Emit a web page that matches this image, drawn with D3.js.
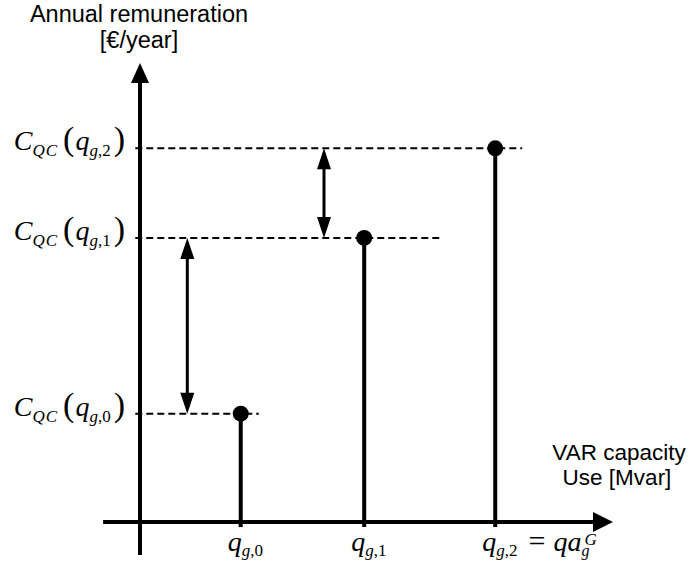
<!DOCTYPE html>
<html>
<head>
<meta charset="utf-8">
<script src="https://cdn.jsdelivr.net/npm/d3@7"></script>
<style>
  body { margin: 0; background: #fff; }
</style>
</head>
<body>
<script>
// capacity levels (arbitrary units along the x axis) and their remuneration
const levels = ["0", "1", "2"];
const capacity = [21.3, 47.4, 75.1];
const remuneration = [23.6, 61.9, 81.4];
// where each dashed guide line stops (x units)
const dashEnd = [25.1, 64.0, 80.8];
// double arrows between remuneration levels: [x, from level, to level]
const gaps = [[10.0, 1, 0], [38.9, 2, 1]];

const width = 691, height = 574;

const svg = d3.select("body").append("svg")
    .attr("width", width)
    .attr("height", height);

const x = d3.scaleLinear().domain([0, 100]).range([140, 613]);
const y = d3.scaleLinear().domain([0, 100]).range([522, 63]);

const serif = "'Liberation Serif', 'Times New Roman', serif";
const sans = "'Liberation Sans', Arial, sans-serif";
const big = 28, small = 17, paren = 34;

// axes
svg.append("line")
    .attr("x1", x(0)).attr("x2", x(0))
    .attr("y1", y(-7.2)).attr("y2", y(96))
    .attr("stroke", "#000").attr("stroke-width", 4);
svg.append("path")
    .attr("d", `M${x(0)},${y(100)} L${x(0) - 9},${y(100) + 20} L${x(0) + 9},${y(100) + 20} Z`)
    .attr("fill", "#000");

svg.append("line")
    .attr("x1", x(-7.8)).attr("x2", x(97))
    .attr("y1", y(0)).attr("y2", y(0))
    .attr("stroke", "#000").attr("stroke-width", 4);
svg.append("path")
    .attr("d", `M${x(100)},${y(0)} L${x(100) - 20},${y(0) - 10} L${x(100) - 20},${y(0) + 10} Z`)
    .attr("fill", "#000");

// dashed guides
svg.selectAll("line.guide")
    .data(levels)
    .join("line")
    .attr("class", "guide")
    .attr("x1", x(-1)).attr("x2", (d, i) => x(dashEnd[i]))
    .attr("y1", (d, i) => y(remuneration[i]))
    .attr("y2", (d, i) => y(remuneration[i]))
    .attr("stroke", "#000").attr("stroke-width", 2)
    .attr("stroke-dasharray", "7,4");

// stems and dots
svg.selectAll("line.stem")
    .data(levels)
    .join("line")
    .attr("class", "stem")
    .attr("x1", (d, i) => x(capacity[i])).attr("x2", (d, i) => x(capacity[i]))
    .attr("y1", y(-1.1)).attr("y2", (d, i) => y(remuneration[i]))
    .attr("stroke", "#000").attr("stroke-width", 4);

svg.selectAll("circle.dot")
    .data(levels)
    .join("circle")
    .attr("class", "dot")
    .attr("cx", (d, i) => x(capacity[i]))
    .attr("cy", (d, i) => y(remuneration[i]))
    .attr("r", 8)
    .attr("fill", "#000");

// double arrows
const head = 21, hw = 7;
gaps.forEach(([gx, a, b]) => {
  const px = x(gx), top = y(remuneration[a]), bot = y(remuneration[b]);
  svg.append("line")
      .attr("x1", px).attr("x2", px)
      .attr("y1", top + head - 2).attr("y2", bot - head + 2)
      .attr("stroke", "#000").attr("stroke-width", 3);
  svg.append("path")
      .attr("d", `M${px},${top} L${px - hw},${top + head} L${px + hw},${top + head} Z`)
      .attr("fill", "#000");
  svg.append("path")
      .attr("d", `M${px},${bot} L${px - hw},${bot - head} L${px + hw},${bot - head} Z`)
      .attr("fill", "#000");
});

// y labels: C_QC(q_g,i)
svg.selectAll("text.ylab")
    .data(levels)
    .join("text")
    .attr("class", "ylab")
    .attr("x", 125)
    .attr("y", (d, i) => y(remuneration[i]) + 2)
    .attr("text-anchor", "end")
    .attr("font-family", serif)
    .each(function(d) {
      const t = d3.select(this);
      t.append("tspan").attr("font-size", big).attr("font-style", "italic").text("C");
      t.append("tspan").attr("font-size", small).attr("font-style", "italic")
          .attr("dy", 6).attr("letter-spacing", 1).text("QC");
      t.append("tspan").attr("font-size", paren).attr("dy", -6).attr("dx", 5).text("(");
      t.append("tspan").attr("font-size", big).attr("font-style", "italic").attr("dx", 1).text("q");
      t.append("tspan").attr("font-size", small).attr("font-style", "italic").attr("dy", 6).text("g");
      t.append("tspan").attr("font-size", small).text("," + d);
      t.append("tspan").attr("font-size", paren).attr("dy", -6).attr("dx", 3).text(")");
    });

// x labels: q_g,i
svg.selectAll("text.xlab")
    .data(levels)
    .join("text")
    .attr("class", "xlab")
    .attr("x", (d, i) => x(capacity[i]) - 13)
    .attr("y", 551)
    .attr("font-family", serif)
    .each(function(d, i) {
      const t = d3.select(this);
      t.append("tspan").attr("font-size", big).attr("font-style", "italic").text("q");
      t.append("tspan").attr("font-size", small).attr("font-style", "italic").attr("dy", 5).text("g");
      t.append("tspan").attr("font-size", small).text("," + d);
      if (i === levels.length - 1) {
        t.append("tspan").attr("font-size", big + 2).attr("dy", -5).attr("dx", 11).text("=");
        t.append("tspan").attr("font-size", big).attr("font-style", "italic").attr("dx", 8).text("qa");
        t.append("tspan").attr("font-size", small - 1).attr("font-style", "italic").attr("dy", 5).text("g");
        t.append("tspan").attr("font-size", small).attr("font-style", "italic")
            .attr("dx", -5).attr("dy", -11).text("G");
      }
    });

// axis titles
svg.append("text")
    .attr("x", 139).attr("y", 22)
    .attr("text-anchor", "middle")
    .attr("font-family", sans).attr("font-size", 23.5)
    .text("Annual remuneration");
svg.append("text")
    .attr("x", 139).attr("y", 48)
    .attr("text-anchor", "middle")
    .attr("font-family", sans).attr("font-size", 23.5)
    .text("[€/year]");
svg.append("text")
    .attr("x", 619).attr("y", 460)
    .attr("text-anchor", "middle")
    .attr("font-family", sans).attr("font-size", 22.5)
    .text("VAR capacity");
svg.append("text")
    .attr("x", 617).attr("y", 485)
    .attr("text-anchor", "middle")
    .attr("font-family", sans).attr("font-size", 22.5)
    .text("Use [Mvar]");
</script>
</body>
</html>
